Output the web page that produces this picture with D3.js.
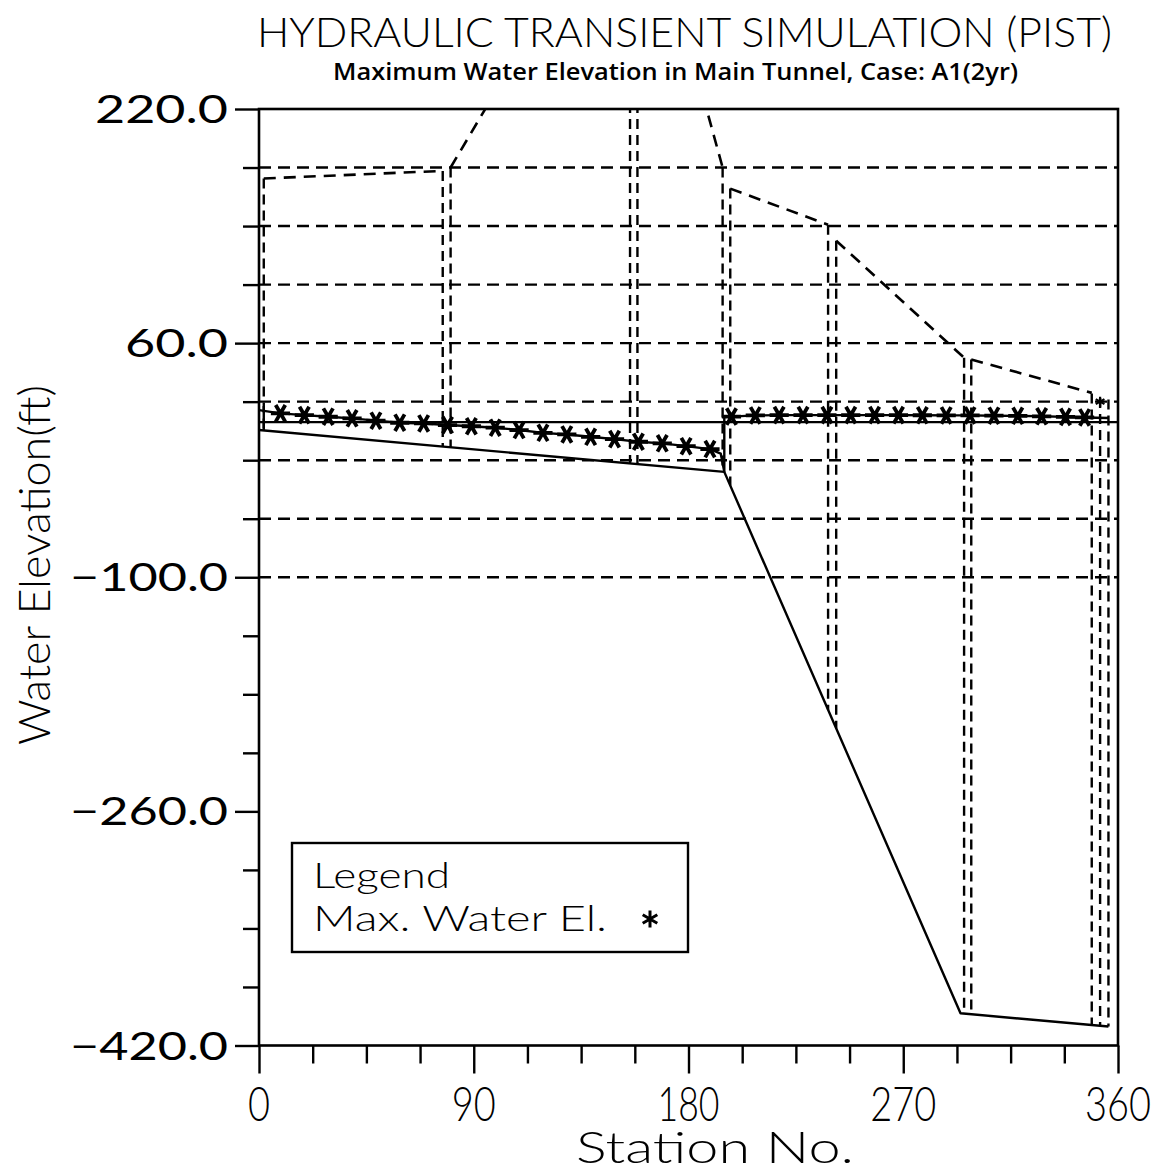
<!DOCTYPE html>
<html>
<head>
<meta charset="utf-8">
<script src="https://cdn.jsdelivr.net/npm/d3@7"></script>
<style>
  html, body { margin: 0; padding: 0; background: #fff; }
  svg { display: block; }
</style>
</head>
<body>
<svg id="chart" width="1170" height="1174"></svg>
<script>
// ---------------- data ----------------
const xMajorTicks = [0, 90, 180, 270, 360];
const xTickLabels = ["0", "90", "180", "270", "360"];
const xMinorStep = 22.5;
const yMajorTicks = [220, 60, -100, -260, -420];
const yTickLabels = ["220.0", "60.0", "\u2212100.0", "\u2212260.0", "\u2212420.0"];
const yMinorStep = 40;
const gridElev = [180, 140, 100, 60, 20, -20, -60, -100];

// ground surface profile (null = break at a shaft)
const groundStation = [2, 77, null, 80.3, 94.3, 100, 155.5, null, 158.6, 184, 194.3, null, 197.5, 238.5, null, 241.9, 295.5, null, 298.5, 349];
const groundElev    = [172.5, 177.7, null, 180, 218.6, 234, 235, null, 235, 241, 180, null, 165.6, 140.9, null, 130, 50, null, 48.8, 26];

// drop shaft walls
const shaftStation = [2, 77, 80.3, 155.5, 158.6, 194.3, 197.5, 238.5, 241.9, 295.5, 298.5, 349, 352.5, 356];
const shaftTop     = [172.5, 177.7, 180, 235, 235, 180, 165.6, 140.9, 130, 50, 48.8, 25.5, 22.5, 21.5];
const shaftBottom  = [0.6, -10.7, -11.2, -22.2, -22.7, -27.9, -37.3, -190.6, -203.3, -398.2, -398.7, -405.8, -406.4, -407];

// tunnel invert
const invertStation = [0, 195, 294, 356];
const invertElev    = [0.6, -28, -398, -407];

// tunnel start wall
const tunnelStartStation = [2, 2];
const tunnelStartElev    = [17, 0.6];

// horizontal reference line
const refStation = [0, 360];
const refElev    = [6, 6];

// maximum water elevation at computation stations
const maxWaterStation = [9, 19, 29, 39, 49, 59, 69, 79, 89, 99, 109, 119, 129, 139, 149, 159, 169, 179, 189,
                         198, 208, 218, 228, 238, 248, 258, 268, 278, 288, 298, 308, 318, 328, 338, 346];
const maxWaterElev    = [12.0, 10.8, 9.7, 8.6, 7.0, 5.6, 5.1, 4.0, 3.2, 2.2, 0.6, -1.3, -2.4, -4.0, -5.6, -7.4, -8.5, -10.4, -12.4,
                         9.8, 10.6, 10.8, 10.8, 10.8, 10.8, 10.8, 10.8, 10.7, 10.6, 10.6, 10.4, 10.3, 10.0, 9.6, 9.2];
// extra profile points (tunnel ends and the drop structure)
const profileStation = [0, 193.5, 195, 195, 356];
const profileElev    = [14.2, -15.5, -28, 9.6, 8.8];

// water level mark in the last shaft
const shaftMarkStation = [352.5];
const shaftMarkElev    = [20];

// ---------------- layout ----------------
const svg = d3.select("#chart");
const x = d3.scaleLinear().domain([0, 360]).range([259, 1118]);
const y = d3.scaleLinear().domain([-420, 220]).range([1045.5, 109]);

const INK = "#000";
const THIN_FONT = "Lato, 'Open Sans', 'DejaVu Sans', sans-serif";

svg.append("defs").append("clipPath").attr("id", "plotClip")
  .append("rect")
  .attr("x", x(0)).attr("y", y(220))
  .attr("width", x(360) - x(0)).attr("height", y(-420) - y(220));

const plot = svg.append("g").attr("clip-path", "url(#plotClip)");

// dashed grid lines
plot.append("g").selectAll("line").data(gridElev).join("line")
  .attr("x1", x(0)).attr("x2", x(360))
  .attr("y1", d => y(d)).attr("y2", d => y(d))
  .attr("stroke", INK).attr("stroke-width", 2.4)
  .attr("stroke-dasharray", "12,7");

const zip = (s, e) => s.map((v, i) => [v, e[i]]);
const line = d3.line()
  .defined(d => d[0] !== null)
  .x(d => x(d[0])).y(d => y(d[1]));

// ground surface
plot.append("path")
  .attr("d", line(zip(groundStation, groundElev)))
  .attr("fill", "none").attr("stroke", INK).attr("stroke-width", 2.6)
  .attr("stroke-dasharray", "12,8");

// shaft walls
plot.append("g").selectAll("line").data(shaftStation.map((s, i) => ({ s, t: shaftTop[i], b: shaftBottom[i] })))
  .join("line")
  .attr("x1", d => x(d.s)).attr("x2", d => x(d.s))
  .attr("y1", d => y(d.t)).attr("y2", d => y(d.b))
  .attr("stroke", INK).attr("stroke-width", 2.4)
  .attr("stroke-dasharray", "10,6");

// solid tunnel lines
const solid = [zip(invertStation, invertElev), zip(refStation, refElev), zip(tunnelStartStation, tunnelStartElev)];
plot.append("g").selectAll("path").data(solid).join("path")
  .attr("d", d => line(d))
  .attr("fill", "none").attr("stroke", INK).attr("stroke-width", 2.4)
  .attr("stroke-linejoin", "round");

// max water profile
const markers = zip(maxWaterStation, maxWaterElev);
const profile = markers.concat(zip(profileStation, profileElev))
  .map((d, i) => ({ d, i }))
  .sort((a, b) => a.d[0] - b.d[0] || a.i - b.i)
  .map(o => o.d);
plot.append("path")
  .attr("d", line(profile))
  .attr("fill", "none").attr("stroke", INK).attr("stroke-width", 2.4)
  .attr("stroke-linejoin", "round");

const star = d3.symbol().type(d3.symbolAsterisk).size(260);
plot.append("g").selectAll("path").data(markers).join("path")
  .attr("d", star)
  .attr("transform", d => `translate(${x(d[0])},${y(d[1])}) rotate(90)`)
  .attr("fill", "none").attr("stroke", INK).attr("stroke-width", 3.8);

plot.append("g").selectAll("path").data(zip(shaftMarkStation, shaftMarkElev)).join("path")
  .attr("d", d3.symbol().type(d3.symbolAsterisk).size(70))
  .attr("transform", d => `translate(${x(d[0])},${y(d[1])})`)
  .attr("fill", "none").attr("stroke", INK).attr("stroke-width", 2.2);

// frame
svg.append("rect")
  .attr("x", x(0)).attr("y", y(220))
  .attr("width", x(360) - x(0)).attr("height", y(-420) - y(220))
  .attr("fill", "none").attr("stroke", INK).attr("stroke-width", 2.6);

// ---------------- axes ----------------
const yAllTicks = d3.range(-420, 220 + 1, yMinorStep);
const yAxis = d3.axisLeft(y).tickValues(yAllTicks).tickSize(16).tickFormat("");
const gy = svg.append("g").attr("transform", `translate(${x(0)},0)`).call(yAxis);
gy.select(".domain").remove();
gy.selectAll(".tick line")
  .attr("stroke", INK).attr("stroke-width", 2.4)
  .attr("x2", d => yMajorTicks.includes(d) ? -24 : -16);

const xAllTicks = d3.range(0, 360 + 0.1, xMinorStep);
const xAxis = d3.axisBottom(x).tickValues(xAllTicks).tickSize(18).tickFormat("");
const gx = svg.append("g").attr("transform", `translate(0,${y(-420)})`).call(xAxis);
gx.select(".domain").remove();
gx.selectAll(".tick line")
  .attr("stroke", INK).attr("stroke-width", 2.4)
  .attr("y2", d => xMajorTicks.includes(d) ? 28 : 18);

// fitted text helper: places text in an exact box width
function fitText(g, str, xStart, baseline, width, size, family, weight) {
  return g.append("text")
    .attr("x", xStart).attr("y", baseline)
    .attr("font-family", family).attr("font-size", size)
    .attr("font-weight", weight || 400)
    .attr("textLength", width).attr("lengthAdjust", "spacingAndGlyphs")
    .attr("fill", INK)
    .text(str);
}

// y tick labels: right edge aligned
const charW = c => c === "." ? 13 : (c === "\u2212" ? 25 : 30);
yMajorTicks.forEach((v, i) => {
  const s = yTickLabels[i];
  const w = Array.from(s).reduce((a, c) => a + charW(c), 0);
  fitText(svg, s, 228 - w, y(v) + 14, w, 39, THIN_FONT, 400);
});

// x tick labels: centered, tall and narrow
xMajorTicks.forEach((v, i) => {
  const s = xTickLabels[i];
  const w = Array.from(s).reduce((a, c) => a + (c === "1" ? 18 : 22), 0);
  fitText(svg, s, x(v) - w / 2, 1121, w, 48, THIN_FONT, 300);
});

// axis titles
fitText(svg, "Station No.", 576, 1163, 278, 44, THIN_FONT, 300);
const yTitle = svg.append("g").attr("transform", "translate(50,745) rotate(-90)");
fitText(yTitle, "Water Elevation(ft)", 0, 0, 360, 44, THIN_FONT, 300);

// titles
fitText(svg, "HYDRAULIC TRANSIENT SIMULATION (PIST)", 257, 47, 855, 42, THIN_FONT, 300);
fitText(svg, "Maximum Water Elevation in Main Tunnel, Case: A1(2yr)", 333, 80, 685, 23, "'Open Sans', 'DejaVu Sans', sans-serif", 600);

// ---------------- legend ----------------
const lg = svg.append("g");
lg.append("rect")
  .attr("x", 292).attr("y", 843).attr("width", 396).attr("height", 109)
  .attr("fill", "#fff").attr("stroke", INK).attr("stroke-width", 2.4);
fitText(lg, "Legend", 313, 888, 137, 35, THIN_FONT, 300);
fitText(lg, "Max. Water El.", 313, 931, 294, 35, THIN_FONT, 300);
lg.append("path")
  .attr("d", d3.symbol().type(d3.symbolAsterisk).size(200))
  .attr("transform", "translate(650,919)")
  .attr("fill", "none").attr("stroke", INK).attr("stroke-width", 3);
</script>
</body>
</html>
